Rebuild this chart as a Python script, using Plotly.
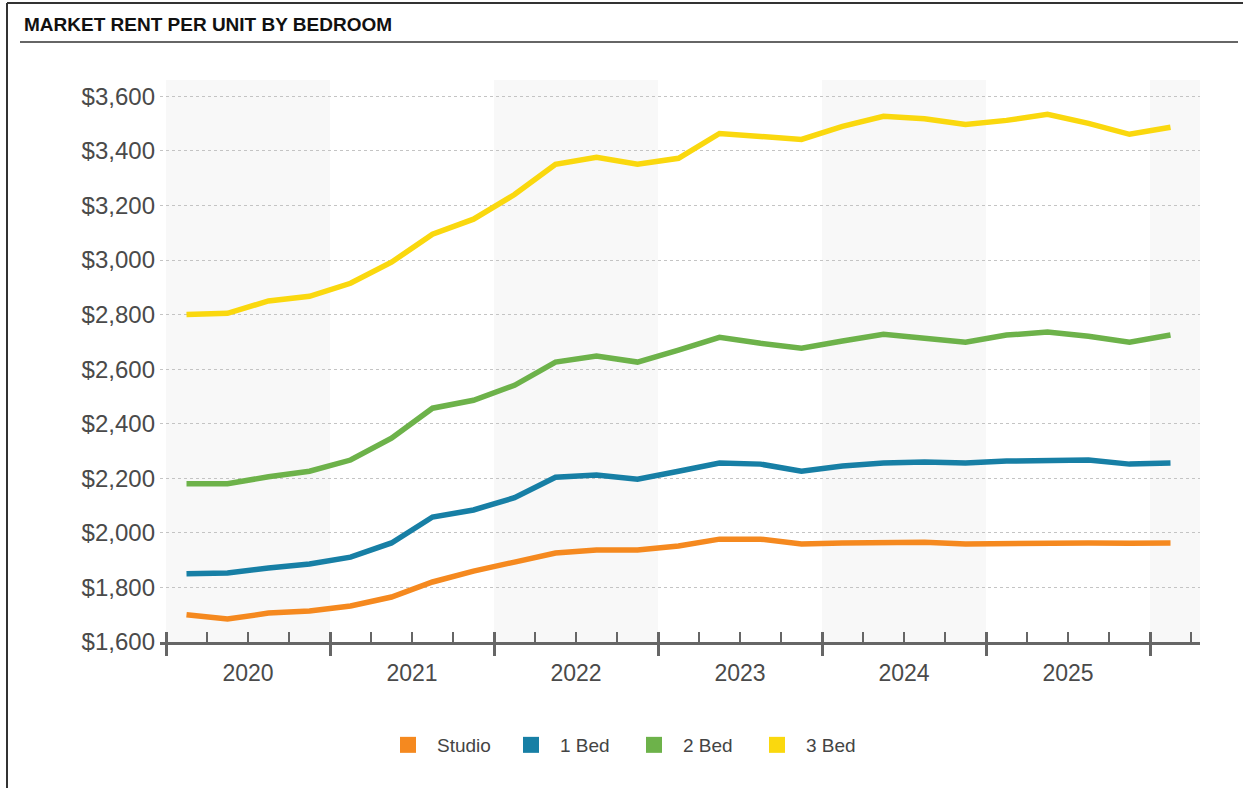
import plotly.graph_objects as go

# ---------------- data ----------------
quarters = [f"{y} Q{q}" for y in range(2020, 2026) for q in range(1, 5)] + ["2026 Q1"]

studio = [1700, 1684, 1706, 1714, 1732, 1765, 1820, 1860, 1893, 1926, 1937, 1937, 1952,
          1977, 1977, 1959, 1963, 1966, 1966, 1959, 1961, 1963, 1963, 1962, 1963]
bed1 = [1850, 1853, 1871, 1886, 1911, 1963, 2058, 2084, 2129, 2204, 2212, 2197, 2226,
        2256, 2252, 2226, 2245, 2256, 2260, 2256, 2263, 2267, 2267, 2252, 2256]
bed2 = [2180, 2180, 2206, 2226, 2267, 2347, 2457, 2486, 2541, 2626, 2648, 2626, 2670,
        2717, 2695, 2677, 2703, 2728, 2713, 2699, 2725, 2736, 2721, 2699, 2725]
bed3 = [2800, 2805, 2850, 2867, 2915, 2992, 3095, 3150, 3240, 3351, 3377, 3351, 3373,
        3464, 3453, 3442, 3490, 3527, 3518, 3497, 3512, 3534, 3501, 3461, 3487]

series_names = ["Studio", "1 Bed", "2 Bed", "3 Bed"]
series_values = [studio, bed1, bed2, bed3]
series_colors = ["#F5891F", "#177FA5", "#6DB24A", "#FAD80E"]

years = [2020, 2021, 2022, 2023, 2024, 2025]
year_labels = [str(y) for y in years]
y_ticks = list(range(1600, 3601, 200))

# quarter label -> numeric position (middle of the quarter)
def qpos(label):
    y, q = label.split(" Q")
    return int(y) + (int(q) - 0.5) / 4

x_vals = [qpos(q) for q in quarters]

# ---------------- layout geometry ----------------
W, H = 1243, 788
L, R, T, B = 160, 43, 80, 146
plot_w = W - L - R
plot_h = H - T - B
x_range = [2020 - 6 / 164, 2026 + 50 / 164]
y_range = [1600, 3660]

def px_to_paper_x(px):
    return (px - L) / plot_w

def px_to_paper_y(py):
    return (H - B - py) / plot_h

fig = go.Figure()

for name, vals, col in zip(series_names, series_values, series_colors):
    fig.add_trace(go.Scatter(x=x_vals, y=vals, mode="lines", name=name,
                             line=dict(color=col, width=5.5), showlegend=False))

# legend entries with square swatches
for name, col in zip(series_names, series_colors):
    fig.add_trace(go.Scatter(x=[None], y=[None], mode="markers", name=name,
                             marker=dict(symbol="square", size=16, color=col),
                             showlegend=True))

# dummy traces so the overlay axes render
fig.add_trace(go.Scatter(x=[None], y=[None], xaxis="x2", showlegend=False, hoverinfo="skip"))
fig.add_trace(go.Scatter(x=[None], y=[None], xaxis="x3", showlegend=False, hoverinfo="skip"))

# alternating year bands
shapes = []
band_years = years + [2026]
for i, yr in enumerate(band_years):
    if i % 2 == 0:
        shapes.append(dict(type="rect", xref="x", yref="paper", x0=yr, x1=yr + 1,
                           y0=0, y1=1, fillcolor="#F8F8F8", line=dict(width=0),
                           layer="below"))

# frame lines
shapes.append(dict(type="line", xref="paper", yref="paper",
                   x0=px_to_paper_x(7), x1=px_to_paper_x(W), y0=px_to_paper_y(3), y1=px_to_paper_y(3),
                   line=dict(color="#333333", width=2)))
shapes.append(dict(type="line", xref="paper", yref="paper",
                   x0=px_to_paper_x(7), x1=px_to_paper_x(7), y0=px_to_paper_y(3), y1=px_to_paper_y(H + 5),
                   line=dict(color="#333333", width=2)))
shapes.append(dict(type="line", xref="paper", yref="paper",
                   x0=px_to_paper_x(20), x1=px_to_paper_x(1238), y0=px_to_paper_y(42), y1=px_to_paper_y(42),
                   line=dict(color="#333333", width=1.5)))

boundaries = years + [2026]
minor_vals = [y + q / 4 for y in range(2020, 2027) for q in (1, 2, 3) if y + q / 4 < x_range[1]]

fig.update_layout(
    width=W, height=H,
    margin=dict(l=L, r=R, t=T, b=B),
    paper_bgcolor="white", plot_bgcolor="white",
    font=dict(family="Liberation Sans, Arial, sans-serif", color="#4A4A4A"),
    shapes=shapes,
    annotations=[dict(text="<b>MARKET RENT PER UNIT BY BEDROOM</b>", xref="paper", yref="paper",
                      x=px_to_paper_x(22), y=px_to_paper_y(24), xanchor="left", yanchor="middle",
                      showarrow=False, font=dict(size=19, color="#111111"))],
    xaxis=dict(range=x_range, tickvals=boundaries, showticklabels=False,
               ticks="outside", ticklen=11, tickwidth=3, tickcolor="#666666",
               showline=True, linecolor="#666666", linewidth=3, showgrid=False, zeroline=False,
               minor=dict(tickvals=minor_vals, ticks="inside", ticklen=10, tickwidth=2,
                          tickcolor="#666666", showgrid=False)),
    xaxis2=dict(range=x_range, overlaying="x", anchor="y", side="bottom",
                tickvals=boundaries, showticklabels=False, ticks="inside", ticklen=10,
                tickwidth=3, tickcolor="#666666", showline=False, showgrid=False, zeroline=False),
    xaxis3=dict(range=x_range, overlaying="x", anchor="y", side="bottom",
                tickvals=[y + 0.5 for y in years], ticktext=year_labels, ticks="",
                ticklabelstandoff=15, tickfont=dict(size=23, color="#4A4A4A"),
                showline=False, showgrid=False, zeroline=False),
    yaxis=dict(range=y_range, tickvals=y_ticks, tickformat="$,.0f", ticks="",
               ticklabelstandoff=4, tickfont=dict(size=24, color="#4A4A4A"),
               showgrid=True, gridcolor="#C4C4C4", gridwidth=1, griddash="dot",
               showline=False, zeroline=False),
    legend=dict(orientation="h", x=px_to_paper_x(379), xanchor="left",
                y=px_to_paper_y(745), yanchor="middle", itemwidth=48,
                entrywidth=60, font=dict(size=19, color="#444444"),
                bgcolor="rgba(0,0,0,0)"),
    hovermode=False,
)

fig.write_html("out.html", config={"displayModeBar": False},
               post_script="document.body.style.margin='0';")
